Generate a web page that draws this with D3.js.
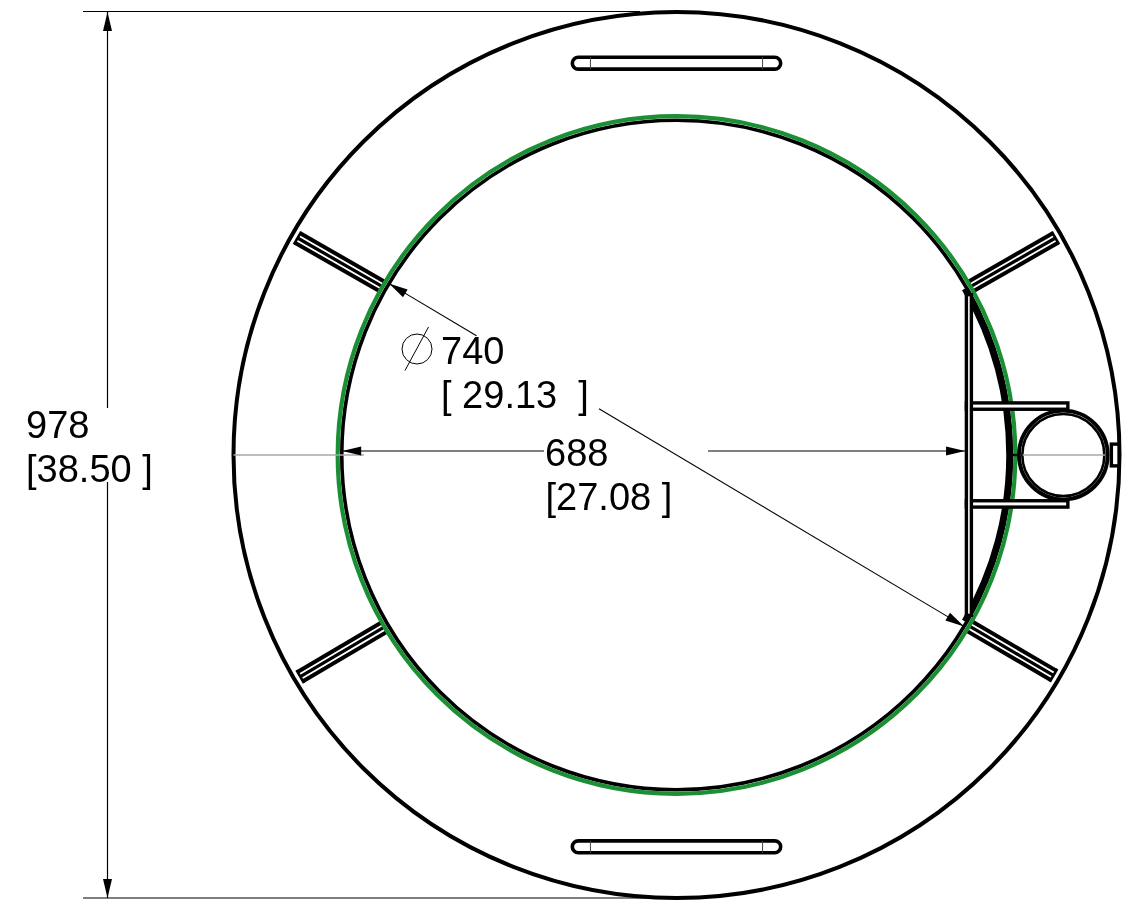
<!DOCTYPE html>
<html>
<head>
<meta charset="utf-8">
<script src="https://cdn.jsdelivr.net/npm/d3@7"></script>
<style>
    body {margin:0; background:#fff;}
    svg {display:block;}
    text {font-family:"Liberation Sans",Arial,sans-serif; font-size:38px; fill:#000; white-space:pre;}
    .labels {filter:grayscale(1);}
</style>
</head>
<body>
<div id="plot"></div>
<script>
// all lengths in mm, measured from the centre of the ring
var outerDia = 978,
    greenDia = 748,
    boreDia = 739;

var armAngles = [29.8, 150.2, 210.5, 329.7],
    armRadii = [374, 482],
    armLines = [-6, 0, 6];

var handleRows = [-432.5, 432.5],
    handleHalfLength = 115,
    handleHalfDepth = 6.6,
    handleTicks = [-95, 95];

var plateX = [320, 325.5],
    plateHalfHeight = 177,
    bracketY = [-57.5, 50.5],
    bracketDepth = 7,
    bracketEndX = 432;

var thickArcAngles = [60, 120],
    tubeX = 427,
    tubeRadii = [49, 45.3],
    stubX = [369, 378],
    boxX = [480, 488.5],
    boxHalfHeight = 12;

var dimV = 978,
    dimH = 688,
    dimDiagonalAngle = 30.8;

var labels = [
    {text:"978", x:26, y:438},
    {text:"[38.50 ]", x:26, y:482},
    {text:"740", x:441, y:364},
    {text:"[ 29.13  ]", x:441, y:408},
    {text:"688", x:545, y:466},
    {text:"[27.08 ]", x:545.5, y:510}
];

var w = 1127,
    h = 908,
    sx = d3.scaleLinear().domain([-489,489]).range([233.5,1119.5]),
    sy = d3.scaleLinear().domain([-489,489]).range([12,898]),
    sr = d3.scaleLinear().domain([0,489]).range([0,443]),
    cx = sx(0),
    cy = sy(0);

var svg = d3.select("#plot").append("svg").attr("width",w).attr("height",h);
var plot = svg.append("g").attr("fill","none").attr("stroke","#000");

function line(g,x1,y1,x2,y2,width,color){
    return g.append("line")
        .attr("x1",x1).attr("y1",y1)
        .attr("x2",x2).attr("y2",y2)
        .attr("stroke-width",width)
        .attr("stroke",color || "#000");
}

function arrow(g,tipX,tipY,deg){
    // deg = the way the tip points
    var a = deg*Math.PI/180, len = 19, half = 4.5;
    var pts = [
        [tipX,tipY],
        [tipX-len*Math.cos(a)-half*Math.sin(a), tipY-len*Math.sin(a)+half*Math.cos(a)],
        [tipX-len*Math.cos(a)+half*Math.sin(a), tipY-len*Math.sin(a)-half*Math.cos(a)]
    ];
    g.append("path").attr("d",d3.line()(pts)+"Z").attr("fill","#000").attr("stroke","none");
}

// arms go under the rings
plot.selectAll(".arm")
    .data(armAngles)
    .enter()
    .append("g")
    .attr("class","arm")
    .attr("transform",function(d){return "translate("+cx+","+cy+") rotate("+(-d)+")"})
    .each(function(){
        var g = d3.select(this);
        armLines.forEach(function(o){
            line(g,sr(armRadii[0]),sr(o),sr(armRadii[1]),sr(o),o==0?3.2:4);
        });
        line(g,sr(armRadii[1]),sr(armLines[0])-2,sr(armRadii[1]),sr(armLines[2])+2,2.6);
    });

// rings
plot.append("circle").attr("cx",cx).attr("cy",cy).attr("r",sr(outerDia/2)).attr("stroke-width",4);
plot.append("circle").attr("cx",cx).attr("cy",cy).attr("r",sr(boreDia/2)).attr("stroke-width",3.6);
plot.append("path")
    .attr("transform","translate("+cx+","+cy+")")
    .attr("fill","#000")
    .attr("stroke","none")
    .attr("d",d3.arc()
        .innerRadius(sr(boreDia/2)-5)
        .outerRadius(sr(boreDia/2)+1.8)
        .startAngle(thickArcAngles[0]*Math.PI/180)
        .endAngle(thickArcAngles[1]*Math.PI/180)());
plot.append("circle").attr("cx",cx).attr("cy",cy).attr("r",sr(greenDia/2)).attr("stroke","#1a8f34").attr("stroke-width",4.2);

// handles top and bottom
handleRows.forEach(function(row){
    plot.append("rect")
        .attr("x",sx(-handleHalfLength))
        .attr("y",sy(row-handleHalfDepth))
        .attr("width",sx(handleHalfLength)-sx(-handleHalfLength))
        .attr("height",sy(row+handleHalfDepth)-sy(row-handleHalfDepth))
        .attr("rx",6)
        .attr("fill","#fff")
        .attr("stroke-width",3.6);
    handleTicks.forEach(function(t){
        line(plot,sx(t),sy(row-handleHalfDepth),sx(t),sy(row+handleHalfDepth),1,"#444");
    });
});

// bracket arms and flat plate
bracketY.forEach(function(y){
    plot.append("rect")
        .attr("x",sx(plateX[0]))
        .attr("y",sy(y))
        .attr("width",sx(bracketEndX)-sx(plateX[0]))
        .attr("height",sy(y+bracketDepth)-sy(y))
        .attr("fill","#fff")
        .attr("stroke-width",3.4);
});
plot.append("rect")
    .attr("x",sx(plateX[0]))
    .attr("y",sy(-plateHalfHeight))
    .attr("width",sx(plateX[1])-sx(plateX[0]))
    .attr("height",sy(plateHalfHeight)-sy(-plateHalfHeight))
    .attr("fill","#fff")
    .attr("stroke-width",3.4);

// tube
plot.selectAll(".tube")
    .data(tubeRadii)
    .enter()
    .append("circle")
    .attr("class","tube")
    .attr("cx",sx(tubeX))
    .attr("cy",cy)
    .attr("r",function(d){return sr(d)})
    .attr("fill",function(d,i){return i==0?"#fff":"none"})
    .attr("stroke-width",function(d,i){return i==0?3.8:2.6});
line(plot,sx(tubeX-45),cy,sx(tubeX+46),cy,1.6,"#a8a8a8");
line(plot,sx(stubX[0]),cy,sx(stubX[1]),cy,2.4);
plot.append("rect")
    .attr("x",sx(boxX[0]))
    .attr("y",sy(-boxHalfHeight))
    .attr("width",sx(boxX[1])-sx(boxX[0]))
    .attr("height",sy(boxHalfHeight)-sy(-boxHalfHeight))
    .attr("fill","#fff")
    .attr("stroke-width",3.4);

// dimensions
var dims = svg.append("g").attr("fill","none").attr("stroke","#000");
var dimX = 107.5,
    dimRow = 451;

line(dims,83,sy(-dimV/2)-.5,640,sy(-dimV/2)-.5,1.2);
line(dims,83,sy(dimV/2),676,sy(dimV/2),1.2);
line(dims,dimX,sy(-dimV/2),dimX,408,1.2);
line(dims,dimX,482,dimX,sy(dimV/2),1.2);
arrow(dims,dimX,sy(-dimV/2),-90);
arrow(dims,dimX,sy(dimV/2),90);

line(dims,sx(-489),cy,sx(-dimH/2-1),cy,1.5,"#a8a8a8");
var hLeft = sx(-369), hRight = sx(318.5);
line(dims,hLeft,dimRow,544,dimRow,1.1);
line(dims,708,dimRow,hRight,dimRow,1.1);
arrow(dims,hLeft,dimRow,180);
arrow(dims,hRight,dimRow,0);

var a = dimDiagonalAngle*Math.PI/180,
    dx = Math.cos(a),
    dy = Math.sin(a),
    rBore = sr(boreDia/2);
line(dims,cx-rBore*dx,cy-rBore*dy,cx-sr(257)*dx,cy-sr(257)*dy,1.1);
line(dims,cx-sr(99.6)*dx,cy-sr(99.6)*dy,cx+rBore*dx,cy+rBore*dy,1.1);
arrow(dims,cx-rBore*dx,cy-rBore*dy,180+dimDiagonalAngle);
arrow(dims,cx+rBore*dx,cy+rBore*dy,dimDiagonalAngle);

// diameter sign
dims.append("circle").attr("cx",417).attr("cy",349).attr("r",15).attr("stroke-width",1);
line(dims,428.5,327,405,370.5,1);

svg.append("g").attr("class","labels").selectAll(".label")
    .data(labels)
    .enter()
    .append("text")
    .attr("class","label")
    .attr("x",function(d){return d.x})
    .attr("y",function(d){return d.y})
    .text(function(d){return d.text});
</script>
</body>
</html>
